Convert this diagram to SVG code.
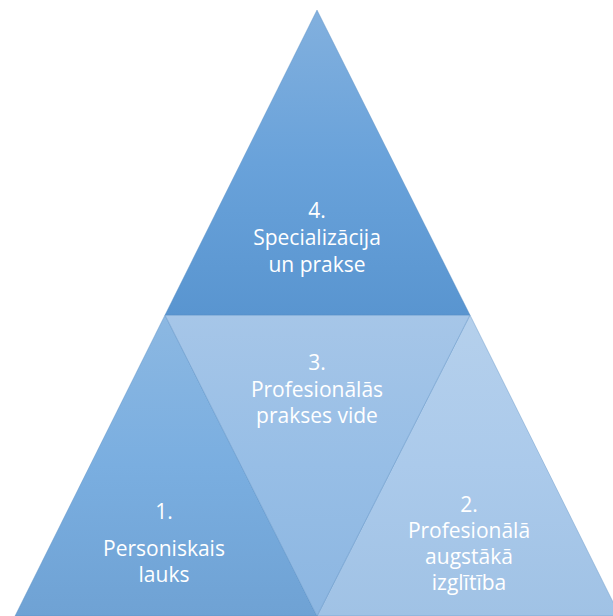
<svg xmlns="http://www.w3.org/2000/svg" width="613" height="616" viewBox="0 0 613 616">
  <defs>
    <linearGradient id="gTop" x1="0" y1="0" x2="0" y2="1">
      <stop offset="0" stop-color="#82b0de"/>
      <stop offset="0.5" stop-color="#69a2da"/>
      <stop offset="1" stop-color="#5995d0"/>
    </linearGradient>
    <linearGradient id="gLeft" x1="0" y1="0" x2="0" y2="1">
      <stop offset="0" stop-color="#8cb8e2"/>
      <stop offset="0.5" stop-color="#7aaee0"/>
      <stop offset="1" stop-color="#6fa2d4"/>
    </linearGradient>
    <linearGradient id="gMid" x1="0" y1="0" x2="0" y2="1">
      <stop offset="0" stop-color="#a6c6e8"/>
      <stop offset="0.5" stop-color="#97bee6"/>
      <stop offset="1" stop-color="#8cb6e1"/>
    </linearGradient>
    <linearGradient id="gRight" x1="0" y1="0" x2="0" y2="1">
      <stop offset="0" stop-color="#b5d0ec"/>
      <stop offset="0.5" stop-color="#abcaeb"/>
      <stop offset="1" stop-color="#a0c2e5"/>
    </linearGradient>
  </defs>
  <style>
    .tri { stroke: #4f86bf; stroke-opacity: 0.45; stroke-width: 0.8; stroke-linejoin: round; }
    .lbl { font-family: "Open Sans", "Noto Sans", "Liberation Sans", sans-serif; font-size: 21px; fill: #ffffff; text-anchor: middle; }
  </style>
  <rect width="613" height="616" fill="#ffffff"/>
  <g id="node-2">
    <polygon class="tri" points="470,315 317,616 620,616" fill="url(#gRight)"/>
    <text class="lbl" x="469" y="512">2.</text>
    <text class="lbl" x="469" y="538">Profesionālā</text>
    <text class="lbl" x="469" y="564">augstākā</text>
    <text class="lbl" x="469" y="590">izglītība</text>
  </g>
  <g id="node-1">
    <polygon class="tri" points="165,315 15,616 317,616" fill="url(#gLeft)"/>
    <text class="lbl" x="164" y="519">1.</text>
    <text class="lbl" x="164" y="556">Personiskais</text>
    <text class="lbl" x="164" y="582">lauks</text>
  </g>
  <g id="node-3">
    <polygon class="tri" points="165,315 470,315 317,616" fill="url(#gMid)"/>
    <text class="lbl" x="317" y="370">3.</text>
    <text class="lbl" x="317" y="397">Profesionālās</text>
    <text class="lbl" x="317" y="423">prakses vide</text>
  </g>
  <g id="node-4">
    <polygon class="tri" points="317,10 165,315 470,315" fill="url(#gTop)"/>
    <text class="lbl" x="317" y="218">4.</text>
    <text class="lbl" x="317" y="245">Specializācija</text>
    <text class="lbl" x="317" y="272">un prakse</text>
  </g>
</svg>
